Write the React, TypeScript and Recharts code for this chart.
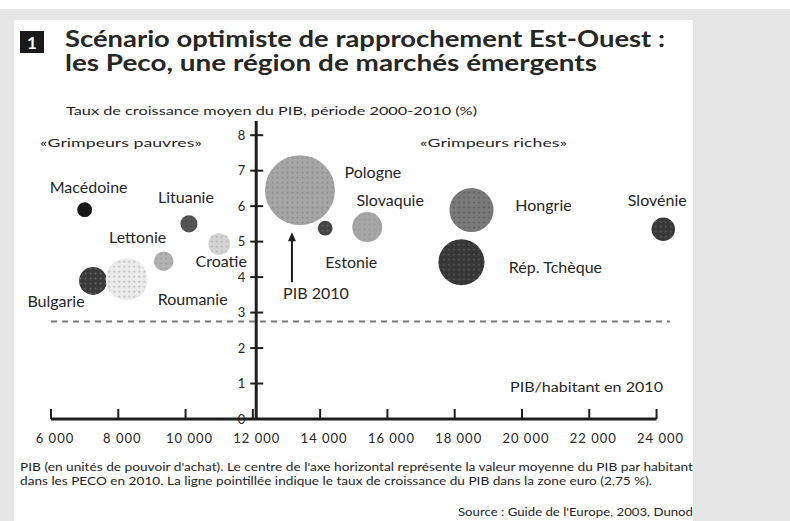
import { ScatterChart, Scatter, XAxis, YAxis, ZAxis, ReferenceLine, ReferenceDot, Cell } from "recharts";

// Pays d'Europe centrale et orientale (PECO)
const PAYS = ["Macédoine", "Lituanie", "Lettonie", "Croatie", "Bulgarie", "Roumanie", "Pologne", "Estonie", "Slovaquie", "Hongrie", "Rép. Tchèque", "Slovénie"];
// PIB/habitant en 2010 (en unités de pouvoir d'achat)
const PIB_HABITANT = [7000, 10100, 9350, 11000, 7250, 8250, 13400, 14150, 15400, 18500, 18200, 24200];
// Taux de croissance moyen du PIB 2000-2010 (%)
const CROISSANCE = [5.9, 5.5, 4.45, 4.93, 3.89, 3.94, 6.45, 5.38, 5.41, 5.89, 4.42, 5.35];
// PIB 2010 (taille des bulles)
const PIB_2010 = [22, 29, 38, 48, 78, 176, 490, 22, 90, 194, 212, 55];

const X_TICKS = [6000, 8000, 10000, 12000, 14000, 16000, 18000, 20000, 22000, 24000];
const Y_TICKS = [0, 1, 2, 3, 4, 5, 6, 7, 8];
const PIB_MOYEN = 12100;
const CROISSANCE_ZONE_EURO = 2.75;

// styles des bulles : [fond, points]
const TRAMES: Record<string, [string, string]> = {
  "Macédoine": ["#151515", "#151515"],
  "Lituanie": ["#555", "#444"],
  "Lettonie": ["#b3b3b3", "#999"],
  "Croatie": ["#d4d4d4", "#b0b0b0"],
  "Bulgarie": ["#3a3a3a", "#666"],
  "Roumanie": ["#ececec", "#b5b5b5"],
  "Pologne": ["#a6a6a6", "#8c8c8c"],
  "Estonie": ["#444", "#666"],
  "Slovaquie": ["#a6a6a6", "#999"],
  "Hongrie": ["#7a7a7a", "#5a5a5a"],
  "Rép. Tchèque": ["#363636", "#5a5a5a"],
  "Slovénie": ["#383838", "#5e5e5e"],
};

// décalage des étiquettes par rapport au centre des bulles (px)
const ETIQUETTES: Record<string, [number, number]> = {
  "Macédoine": [4, -22],
  "Lituanie": [-3, -26],
  "Lettonie": [-26, -24],
  "Croatie": [2, 17],
  "Bulgarie": [-37, 20],
  "Roumanie": [66, 20],
  "Pologne": [73, -18],
  "Estonie": [26, 34],
  "Slovaquie": [23, -27],
  "Hongrie": [72, -5],
  "Rép. Tchèque": [94, 5],
  "Slovénie": [-6, -29],
};

const FONT = "Lato, 'Open Sans', sans-serif";
const INK = "#262626";

const points = PAYS.map((nom, i) => ({ nom, x: PIB_HABITANT[i], y: CROISSANCE[i], z: PIB_2010[i] }));

const fmt = (v: number) => `${Math.floor(v / 1000)} 000`;

export default function App() {
  return (
    <div style={{ position: "absolute", left: 0, top: 0, width: 790, height: 521, background: "#e6e6e6", overflow: "hidden" }}>
      <div style={{ position: "absolute", left: 0, top: 0, width: 790, height: 9, background: "#fff" }} />
      <div style={{ position: "absolute", left: 14, top: 20, width: 679, height: 501, background: "#fff" }} />

      <svg width={0} height={0} style={{ position: "absolute" }}>
        <defs>
          {PAYS.map((nom, i) => (
            <pattern key={nom} id={`trame-${i}`} width={5} height={5} patternUnits="userSpaceOnUse">
              <rect width={5} height={5} fill={TRAMES[nom][0]} />
              <circle cx={2.5} cy={2.5} r={1} fill={TRAMES[nom][1]} />
            </pattern>
          ))}
        </defs>
      </svg>

      <svg width={790} height={521} style={{ position: "absolute", left: 0, top: 0, fontFamily: FONT }}>
        <rect x={20} y={31} width={24} height={22} fill="#1a1a1a" />
        <text x={32} y={48.5} textAnchor="middle" fill="#fff" fontSize={17} fontWeight={700}>1</text>
        <text x={65} y={47} fontSize={22} fontWeight={700} fill={INK} textLength={600} lengthAdjust="spacingAndGlyphs">
          Scénario optimiste de rapprochement Est-Ouest :
        </text>
        <text x={65} y={71} fontSize={22} fontWeight={700} fill={INK} textLength={532} lengthAdjust="spacingAndGlyphs">
          les Peco, une région de marchés émergents
        </text>
        <text x={66} y={115} fontSize={12} fill={INK} textLength={411} lengthAdjust="spacingAndGlyphs">
          Taux de croissance moyen du PIB, période 2000-2010 (%)
        </text>
        <text x={40} y={147} fontSize={11.5} fill={INK} textLength={162} lengthAdjust="spacingAndGlyphs">
          «Grimpeurs pauvres»
        </text>
        <text x={420} y={147} fontSize={11.5} fill={INK} textLength={147} lengthAdjust="spacingAndGlyphs">
          «Grimpeurs riches»
        </text>
        <text x={510} y={392} fontSize={12.5} fill={INK} textLength={153} lengthAdjust="spacingAndGlyphs">
          PIB/habitant en 2010
        </text>
        <text x={20} y={471} fontSize={10.5} fill={INK} textLength={673} lengthAdjust="spacingAndGlyphs">
          PIB (en unités de pouvoir d'achat). Le centre de l'axe horizontal représente la valeur moyenne du PIB par habitant
        </text>
        <text x={20} y={485} fontSize={10.5} fill={INK} textLength={632} lengthAdjust="spacingAndGlyphs">
          dans les PECO en 2010. La ligne pointillée indique le taux de croissance du PIB dans la zone euro (2,75 %).
        </text>
        <text x={693} y={516} textAnchor="end" fontSize={10.5} fill={INK} textLength={235} lengthAdjust="spacingAndGlyphs">
          Source : Guide de l'Europe, 2003, Dunod
        </text>
      </svg>

      <div style={{ position: "absolute", left: 0, top: 0 }}>
        <ScatterChart width={790} height={521} margin={{ top: 121, right: 120, bottom: 72, left: 51 }}>
          <XAxis
            type="number"
            dataKey="x"
            domain={[6000, 24400]}
            ticks={X_TICKS}
            tickFormatter={fmt}
            axisLine={false}
            tickLine={false}
            tickMargin={9}
            height={30}
            dx={4}
            tick={{ fontSize: 13, fill: INK, fontFamily: FONT, letterSpacing: 1 }}
          />
          <YAxis type="number" dataKey="y" domain={[0, 8.4]} hide width={0} />
          <ZAxis type="number" dataKey="z" domain={[0, 490]} range={[0, 3848]} />

          <ReferenceLine y={CROISSANCE_ZONE_EURO} segment={[{ x: 5800, y: CROISSANCE_ZONE_EURO }, { x: 23800, y: CROISSANCE_ZONE_EURO }]} stroke="#7a7a7a" strokeWidth={2} strokeDasharray="6 5" ifOverflow="visible" />
          <ReferenceLine segment={[{ x: 6000, y: 0 }, { x: 24000, y: 0 }]} stroke="#1e1e1e" strokeWidth={3} />
          <ReferenceLine x={PIB_MOYEN} stroke="#1e1e1e" strokeWidth={3} />

          {X_TICKS.map((t) => (
            <ReferenceDot
              key={`xt-${t}`}
              x={t}
              y={0}
              r={0}
              shape={(p: any) => <line x1={p.cx} y1={p.cy} x2={p.cx} y2={p.cy - 10} stroke="#1e1e1e" strokeWidth={2} />}
            />
          ))}
          {Y_TICKS.map((t) => (
            <ReferenceDot
              key={`yt-${t}`}
              x={PIB_MOYEN}
              y={t}
              r={0}
              shape={(p: any) => (
                <g>
                  <line x1={p.cx - 6} y1={p.cy} x2={p.cx + 7} y2={p.cy} stroke="#1e1e1e" strokeWidth={2} />
                  <text x={p.cx - 11} y={p.cy} dy="0.35em" textAnchor="end" fontSize={13} fill={INK} fontFamily={FONT}>{t}</text>
                </g>
              )}
            />
          ))}

          <Scatter data={points} isAnimationActive={false}>
            {points.map((d, i) => (
              <Cell key={d.nom} fill={`url(#trame-${i})`} />
            ))}
          </Scatter>

          {points.map((d) => (
            <ReferenceDot
              key={`lab-${d.nom}`}
              x={d.x}
              y={d.y}
              r={0}
              shape={(p: any) => (
                <text x={p.cx + ETIQUETTES[d.nom][0]} y={p.cy + ETIQUETTES[d.nom][1]} dy="0.35em" textAnchor="middle" fontSize={16} fill={INK} fontFamily={FONT}>
                  {d.nom}
                </text>
              )}
            />
          ))}

          <ReferenceDot
            x={PIB_HABITANT[6]}
            y={CROISSANCE[6]}
            r={0}
            shape={(p: any) => (
              <g>
                <line x1={p.cx - 8} y1={p.cy + 92} x2={p.cx - 8} y2={p.cy + 48} stroke="#1e1e1e" strokeWidth={2} />
                <path d={`M${p.cx - 8},${p.cy + 42} l-4,9 l8,0 z`} fill="#1e1e1e" />
                <text x={p.cx + 16} y={p.cy + 103} dy="0.35em" textAnchor="middle" fontSize={16} fill={INK} fontFamily={FONT}>PIB 2010</text>
              </g>
            )}
          />
        </ScatterChart>
      </div>
    </div>
  );
}
